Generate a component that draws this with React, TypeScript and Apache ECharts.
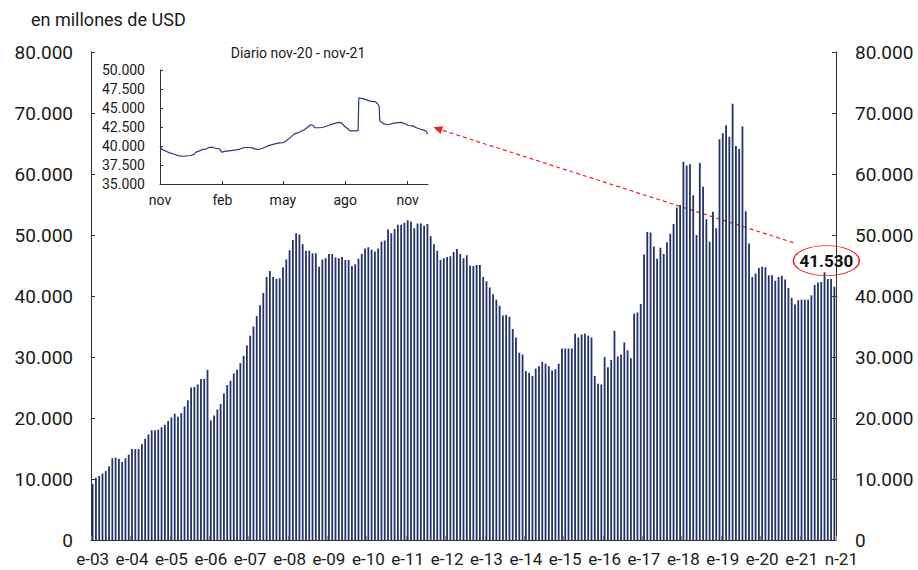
import React, { useEffect, useRef } from 'react';
import * as echarts from 'echarts';

const FONT = 'Roboto, "Liberation Sans", Arial, sans-serif';
const START_YEAR = 2003;
const MONTH_LETTERS = ['e', 'f', 'm', 'a', 'm', 'j', 'j', 'a', 's', 'o', 'n', 'd'];

// Monthly reserves, millions of USD, Jan-2003 .. Nov-2021
const reserves2003 = [9200, 10200, 10500, 10900, 11300, 12100, 13400, 13500, 13300, 12800, 13400, 14000];
const reserves2004 = [14900, 14900, 14900, 15700, 16600, 17300, 18000, 18000, 18100, 18500, 18900, 19500];
const reserves2005 = [20100, 20700, 20200, 20800, 21900, 22900, 25000, 25100, 25500, 26400, 26400, 27900];
const reserves2006 = [19600, 20400, 21400, 22300, 24000, 25400, 26100, 27300, 27900, 29000, 30200, 31900];
const reserves2007 = [33500, 35000, 36700, 38500, 40500, 43100, 44100, 43100, 42800, 42900, 44700, 46000];
const reserves2008 = [47500, 49200, 50300, 50100, 48500, 47400, 47400, 47000, 47000, 44800, 46000, 46200];
const reserves2009 = [46900, 46900, 46300, 46200, 46400, 45900, 45900, 44900, 45200, 46100, 46900, 47800];
const reserves2010 = [48000, 47600, 47300, 47800, 48900, 49100, 50900, 50300, 51000, 51700, 51700, 52000];
const reserves2011 = [52400, 52200, 51100, 51900, 51900, 51500, 51800, 49800, 48500, 47400, 45900, 46200];
const reserves2012 = [46400, 46500, 47200, 47700, 46900, 46200, 46700, 45000, 44900, 45100, 45100, 43100];
const reserves2013 = [42400, 41400, 40300, 39400, 38400, 36800, 36900, 36600, 34600, 33200, 30700, 30400];
const reserves2014 = [27700, 27400, 26900, 28100, 28500, 29200, 28900, 28500, 27800, 28000, 28900, 31400];
const reserves2015 = [31400, 31400, 31400, 33800, 33200, 33700, 33800, 33500, 33200, 26900, 25600, 25500];
const reserves2016 = [30000, 28300, 29500, 34300, 30100, 30400, 32400, 31100, 29800, 37100, 37300, 38700];
const reserves2017 = [46800, 50500, 50400, 48100, 46100, 47900, 46900, 48800, 50200, 51800, 54500, 54900];
const reserves2018 = [62000, 61400, 61600, 56500, 50000, 61800, 57900, 52600, 48900, 53800, 51100, 65700];
const reserves2019 = [66700, 68000, 66100, 71500, 64600, 64100, 67800, 53900, 48600, 43100, 43700, 44600];
const reserves2020 = [44800, 44700, 43400, 43400, 42500, 43100, 43300, 42700, 41300, 39700, 38600, 39300];
const reserves2021 = [39400, 39400, 39400, 40100, 41800, 42200, 42300, 43900, 42800, 42800, 41530];

const monthlyReserves = [
  ...reserves2003, ...reserves2004, ...reserves2005, ...reserves2006, ...reserves2007,
  ...reserves2008, ...reserves2009, ...reserves2010, ...reserves2011, ...reserves2012,
  ...reserves2013, ...reserves2014, ...reserves2015, ...reserves2016, ...reserves2017,
  ...reserves2018, ...reserves2019, ...reserves2020, ...reserves2021,
];

const categories = monthlyReserves.map((_, i) => {
  const y = START_YEAR + Math.floor(i / 12);
  return `${MONTH_LETTERS[i % 12]}-${String(y % 100).padStart(2, '0')}`;
});
const LAST = monthlyReserves.length - 1;

// Daily inset: days since 1-nov-2020, millions of USD
const insetDays = [0, 3, 8, 14, 20, 28, 35, 45, 50, 53, 58, 63, 68, 72, 76, 82, 88, 91, 96, 104,
  112, 118, 124, 130, 136, 142, 148, 154, 160, 168, 176, 182, 186, 192, 198, 205, 212, 218, 222, 226,
  228, 236, 242, 248, 256, 264, 268, 272, 276, 280, 289, 292, 293, 300, 310, 318, 321, 323, 324, 330,
  336, 345, 355, 362, 366, 372, 378, 384, 390, 393, 394];
const insetValues = [40000, 39550, 39350, 39100, 38950, 38700, 38650, 38750, 38900, 39200, 39350, 39550, 39600, 39800, 39850, 39700, 39600, 39200, 39300, 39400,
  39500, 39600, 39800, 39800, 39750, 39550, 39600, 39800, 40050, 40250, 40400, 40450, 40700, 41100, 41600, 41800, 42100, 42500, 42800, 42700,
  42400, 42400, 42500, 42700, 42950, 43100, 43000, 42600, 42300, 42000, 42000, 42050, 46350, 46200, 45900, 45800, 45500, 45200, 43300, 42900,
  42800, 43000, 43100, 42900, 42700, 42650, 42400, 42200, 42050, 41900, 41530];
const insetTickDays = [0, 92, 181, 273, 365];
const insetTickLabels = ['nov', 'feb', 'may', 'ago', 'nov'];

const fmt = (v: number) => String(Math.round(v)).replace(/\B(?=(\d{3})+(?!\d))/g, '.');

export default function App() {
  const ref = useRef<HTMLDivElement>(null);
  useEffect(() => {
    if (!ref.current) return;
    const chart = echarts.init(ref.current, undefined, { renderer: 'svg' });
    const axisColor = '#333333';
    const textColor = '#1a1a1a';
    const mainY = (position: 'left' | 'right', margin: number) => ({
      type: 'value', gridIndex: 0, position, min: 0, max: 80000, interval: 10000,
      axisLine: { show: true, lineStyle: { color: axisColor, width: 1 } },
      axisTick: { show: true, inside: true, length: 4, lineStyle: { color: axisColor } },
      splitLine: { show: false },
      axisLabel: { fontSize: 19, color: textColor, margin, fontFamily: FONT, formatter: fmt },
    });
    const option: any = {
      animation: false,
      backgroundColor: '#ffffff',
      textStyle: { fontFamily: FONT },
      title: {
        text: 'en millones de USD', left: 31, top: 10, padding: 0,
        textStyle: { fontSize: 18, fontWeight: 'normal', color: textColor, fontFamily: FONT },
      },
      grid: [
        { left: 91, right: 82, top: 52, bottom: 30 },
        { left: 160, top: 70, width: 268, height: 114 },
      ],
      xAxis: [
        {
          type: 'category', gridIndex: 0, data: categories, boundaryGap: true,
          axisLine: { show: true, lineStyle: { color: axisColor } },
          axisTick: { show: true, inside: true, length: 4, interval: (i: number) => i % 12 === 0, lineStyle: { color: '#999' } },
          axisLabel: {
            interval: (i: number) => i % 12 === 0 || i === LAST,
            fontSize: 17, color: textColor, margin: 10, fontFamily: FONT,
            formatter: (v: string, i: number) => (i === LAST ? `{last|${v}}` : v),
            rich: { last: { fontSize: 17, color: textColor, fontFamily: FONT, padding: [0, 0, 0, 14] } },
          },
        },
        {
          type: 'value', gridIndex: 1, min: 0, max: 395,
          axisLine: { show: true, lineStyle: { color: axisColor } },
          splitLine: { show: false },
          axisTick: { show: true, inside: true, length: 3, customValues: insetTickDays, lineStyle: { color: axisColor } },
          axisLabel: {
            customValues: insetTickDays, fontSize: 14, color: textColor, margin: 9, fontFamily: FONT,
            formatter: (v: number) => {
              const k = insetTickDays.indexOf(Math.round(v));
              return k >= 0 ? insetTickLabels[k] : '';
            },
          },
        },
      ],
      yAxis: [
        mainY('left', 18),
        mainY('right', 19),
        {
          type: 'value', gridIndex: 1, min: 35000, max: 50000, interval: 2500,
          axisLine: { show: true, lineStyle: { color: axisColor } },
          axisTick: { show: true, inside: true, length: 3, lineStyle: { color: axisColor } },
          splitLine: { show: false },
          axisLabel: { fontSize: 14, color: textColor, margin: 15, fontFamily: FONT, formatter: fmt },
        },
      ],
      series: [
        {
          type: 'bar', xAxisIndex: 0, yAxisIndex: 0, data: monthlyReserves, barWidth: 1.8,
          itemStyle: { color: '#22336b' },
          markPoint: {
            symbol: 'path://M0,15 A33,15 0 1,1 66,15 A33,15 0 1,1 0,15 Z',
            symbolSize: [66, 30], symbolOffset: [-8, -26], silent: true,
            itemStyle: { color: 'rgba(0,0,0,0)', borderColor: '#e8262b', borderWidth: 1.1 },
            label: { show: true, position: 'inside', fontSize: 17, fontWeight: 'bold', color: '#111', fontFamily: FONT, formatter: (p: any) => fmt(p.value) },
            data: [{ coord: [LAST, monthlyReserves[LAST]], value: monthlyReserves[LAST] }],
          },
        },
        {
          type: 'line', xAxisIndex: 1, yAxisIndex: 2, showSymbol: false,
          data: insetDays.map((d, i) => [d, insetValues[i]]),
          lineStyle: { color: '#2b3a7a', width: 1.2 },
        },
      ],
    };
    chart.setOption(option);

    const pBar = chart.convertToPixel({ xAxisIndex: 0, yAxisIndex: 0 }, [LAST, monthlyReserves[LAST]]) as number[];
    const lastDay = insetDays[insetDays.length - 1];
    const pLine = chart.convertToPixel({ xAxisIndex: 1, yAxisIndex: 2 }, [lastDay, insetValues[insetValues.length - 1]]) as number[];
    const x1 = pBar[0] - 41, y1 = pBar[1] - 44;
    const x2 = pLine[0] + 6, y2 = pLine[1] - 7;
    const ang = Math.atan2(y2 - y1, x2 - x1);
    const L = 9, W = 4;
    const bx = x2 - L * Math.cos(ang), by = y2 - L * Math.sin(ang);
    const px = -Math.sin(ang) * W, py = Math.cos(ang) * W;
    chart.setOption({
      graphic: [
        {
          type: 'text', x: 298, y: 53,
          style: { text: 'Diario nov-20 - nov-21', fontSize: 14, fill: textColor, fontFamily: FONT, align: 'center', verticalAlign: 'middle' },
        },
        {
          type: 'line', shape: { x1, y1, x2: bx, y2: by },
          style: { stroke: '#e8262b', lineWidth: 1.2, lineDash: [4, 3] },
        },
        {
          type: 'polygon', shape: { points: [[x2, y2], [bx + px, by + py], [bx - px, by - py]] },
          style: { fill: '#e8262b' },
        },
      ],
    });
    return () => chart.dispose();
  }, []);
  return <div ref={ref} style={{ position: 'fixed', left: 0, top: 0, width: 918, height: 570, background: '#fff' }} />;
}
